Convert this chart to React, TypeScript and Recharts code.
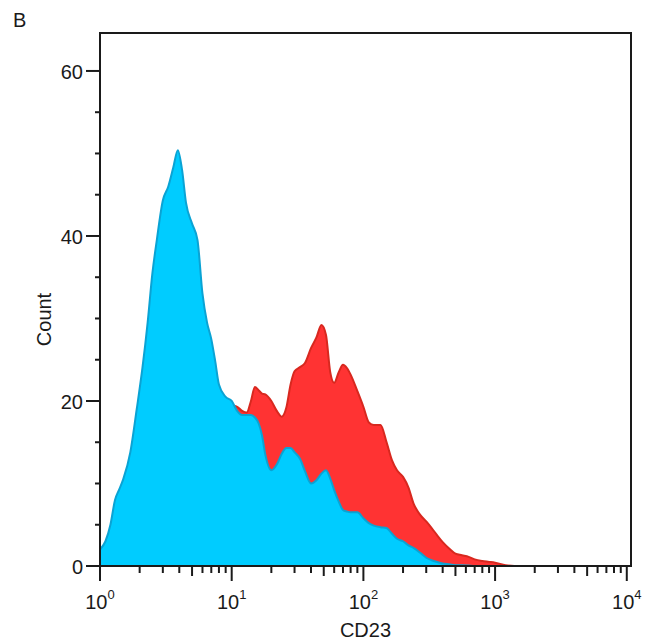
import React from "react";
import {
  AreaChart,
  Area,
  XAxis,
  YAxis,
  ReferenceArea,
} from "recharts";

// CD23 fluorescence (linear units, plotted on a log axis)
const cd23 = [
  1, 1.1, 1.2, 1.3, 1.4, 1.5, 1.7, 1.9, 2.1, 2.3, 2.5, 2.7, 3, 3.3, 3.6, 3.9,
  4.2, 4.5, 5, 5.5, 6, 6.5, 7, 7.5, 8, 9, 10, 11, 12, 13, 14, 15, 16, 17, 18,
  20, 22, 24, 26, 28, 30, 33, 36, 40, 44, 48, 52, 56, 60, 65, 70, 75, 80, 90,
  100, 110, 120, 135, 150, 165, 180, 200, 220, 240, 270, 300, 330, 360, 400,
  450, 500, 560, 630, 700, 800, 900, 1000, 1200, 1400, 2000, 5000, 10000, 10765,
];

// blue (front) histogram
const blueCount = [
  2.0, 3.0, 5.0, 8.0, 9.3, 10.5, 13.8, 19.0, 24.0, 29.5, 35.5, 39.5, 44.3,
  46.0, 48.3, 50.4, 48.0, 44.0, 41.5, 39.5, 33.0, 29.5, 27.5, 24.8, 22.0, 20.5,
  20.0, 18.8, 18.3, 18.3, 18.3, 18.0, 17.3, 15.8, 13.5, 11.6, 12.3, 13.6, 14.3,
  14.3, 13.8, 13.0, 11.5, 10.0, 10.4, 11.2, 11.6, 10.6, 9.2, 7.8, 6.8, 6.6,
  6.5, 6.5, 5.8, 5.2, 4.9, 4.7, 4.6, 3.9, 3.3, 3.0, 2.5, 2.2, 1.6, 1.0, 0.7,
  0.5, 0.3, 0.2, 0.1, 0.1, 0.05, 0, 0, 0, 0, 0, 0, 0, 0, 0, 0,
];

// red (behind) histogram
const redCount = [
  1, 2, 3, 5, 6, 7, 9, 12, 15, 18, 21, 24, 27, 29, 30, 31, 30, 29, 27, 25, 23,
  22, 21, 20.5, 20, 19.8, 19.5, 19.3, 18.8, 18.6, 20.0, 21.7, 21.3, 20.9, 20.8,
  20.0, 18.8, 18.1, 19.2, 22.0, 23.6, 24.1, 24.6, 26.4, 27.7, 29.2, 28.0, 23.5,
  22.2, 23.5, 24.4, 24.0, 23.2, 21.2, 19.3, 17.4, 17.1, 17.1, 15.0, 12.8, 11.6,
  10.8, 9.5, 7.6, 6.2, 5.4, 4.6, 3.8, 2.9, 2.1, 1.5, 1.3, 1.1, 0.8, 0.6, 0.5,
  0.4, 0.1, 0, 0, 0, 0, 0,
];

const decades = [0, 1, 2, 3, 4];
const yTicks = [0, 5, 10, 15, 20, 25, 30, 35, 40, 45, 50, 55, 60];
const yLabels = [0, 20, 40, 60];

const data = cd23.map((v, i) => ({
  lx: Math.log10(v),
  blue: blueCount[i],
  red: redCount[i],
}));

const xTicks: number[] = [];
decades.forEach((d) => {
  xTicks.push(d);
  if (d < 4) {
    for (let k = 2; k <= 9; k++) xTicks.push(d + Math.log10(k));
  }
});

const X_MAX = 4.032;
const Y_MAX = 64.6;
const FONT = "'Liberation Sans', Arial, sans-serif";
const INK = "#1a1a1a";

function XTick(props: any) {
  const { x, y, payload } = props;
  const v = payload.value;
  const major = Math.abs(v - Math.round(v)) < 1e-6;
  const five = Math.abs(v - Math.floor(v) - Math.log10(5)) < 1e-6;
  const len = major ? 15 : five ? 10 : 7;
  return (
    <g>
      <line x1={x} y1={y} x2={x} y2={y + len} stroke={INK} strokeWidth={2} />
      {major && (
        <text
          x={x}
          y={y + 43}
          textAnchor="middle"
          fontSize={20}
          fontFamily={FONT}
          fill={INK}
        >
          10
          <tspan dy={-10} fontSize={13}>
            {Math.round(v)}
          </tspan>
        </text>
      )}
    </g>
  );
}

function YTick(props: any) {
  const { x, y, payload } = props;
  const v = payload.value;
  const major = yLabels.includes(v);
  return (
    <g>
      <line
        x1={x - (major ? 14 : 5)}
        y1={y}
        x2={x}
        y2={y}
        stroke={INK}
        strokeWidth={2}
      />
      {major && (
        <text
          x={x - 17}
          y={y + 8}
          textAnchor="end"
          fontSize={20}
          fontFamily={FONT}
          fill={INK}
        >
          {v}
        </text>
      )}
    </g>
  );
}

export default function App() {
  return (
    <div
      style={{
        position: "absolute",
        left: 0,
        top: 0,
        width: 646,
        height: 644,
        background: "#fff",
      }}
    >
      <div
        style={{
          position: "absolute",
          left: 13,
          top: 10,
          fontSize: 20,
          lineHeight: "20px",
          fontFamily: FONT,
          color: INK,
        }}
      >
        B
      </div>
      <AreaChart
        width={646}
        height={644}
        data={data}
        margin={{ top: 33, right: 15, left: 0, bottom: 0 }}
      >
        <XAxis
          dataKey="lx"
          type="number"
          domain={[0, X_MAX]}
          ticks={xTicks}
          interval={0}
          height={78}
          tickSize={0}
          tickMargin={0}
          tickLine={false}
          tick={<XTick />}
          axisLine={{ stroke: INK, strokeWidth: 2 }}
          allowDataOverflow
          label={{
            content: (p: any) => {
              const vb = p.viewBox;
              return (
                <text
                  x={vb.x + vb.width / 2}
                  y={vb.y + 71}
                  textAnchor="middle"
                  fontSize={20}
                  fontFamily={FONT}
                  fill={INK}
                >
                  CD23
                </text>
              );
            },
          }}
        />
        <YAxis
          type="number"
          domain={[0, Y_MAX]}
          ticks={yTicks}
          interval={0}
          width={100}
          tickSize={0}
          tickMargin={0}
          tickLine={false}
          tick={<YTick />}
          axisLine={{ stroke: INK, strokeWidth: 2 }}
          allowDataOverflow
          label={{
            content: (p: any) => {
              const vb = p.viewBox;
              const cx = vb.x + 51;
              const cy = vb.y + vb.height / 2 + 20;
              return (
                <text
                  x={cx}
                  y={cy}
                  transform={`rotate(-90 ${cx} ${cy})`}
                  textAnchor="middle"
                  fontSize={20}
                  fontFamily={FONT}
                  fill={INK}
                >
                  Count
                </text>
              );
            },
          }}
        />
        <Area
          type="monotone"
          dataKey="red"
          stroke="#d8281f"
          strokeWidth={2}
          fill="#ff3333"
          fillOpacity={1}
          isAnimationActive={false}
          dot={false}
          activeDot={false}
        />
        <Area
          type="monotone"
          dataKey="blue"
          stroke="#0aa3d4"
          strokeWidth={2}
          fill="#00ccff"
          fillOpacity={1}
          isAnimationActive={false}
          dot={false}
          activeDot={false}
        />
        <ReferenceArea
          x1={0}
          x2={X_MAX}
          y1={0}
          y2={Y_MAX}
          fill="none"
          stroke={INK}
          strokeWidth={2}
        />
      </AreaChart>
    </div>
  );
}
